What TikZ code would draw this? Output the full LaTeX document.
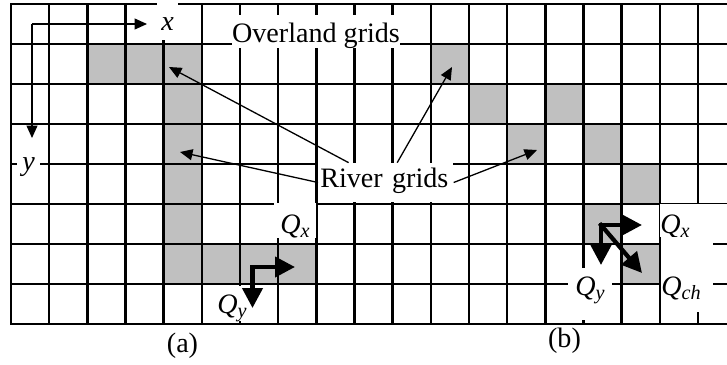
\documentclass[tikz,border=0pt]{standalone}
\usepackage{fontspec}
\setmainfont{Liberation Serif}
\usetikzlibrary{arrows.meta}
\definecolor{rivergray}{RGB}{192,192,192}
\newcommand{\qsub}[1]{\textit{Q}\raisebox{-2.5pt}{\fontsize{11.5}{13}\selectfont\textit{#1}}}

\begin{document}
\begin{tikzpicture}[x=0.02cm,y=-0.02cm,font=\fontsize{16}{19}\selectfont]
  \tikzset{gridline/.style={line width=0.05cm,line cap=rect},
    rivercell/.style={fill=rivergray},
    tag/.style={fill=white,inner sep=0pt},
    pointer/.style={line width=0.026cm,-{Triangle[length=0.25cm,width=0.22cm]}},
    flux/.style={line width=0.085cm,line cap=rect,-{Triangle[length=0.4cm,width=0.4cm]}}}
  \useasboundingbox (0,0) rectangle (727,365);
  % river cells, (a) then (b)
  \foreach \c/\r in {2/1,3/1,4/1,4/2,4/3,4/4,4/5,4/6,5/6,6/6,7/6,
                     11/1,12/2,14/2,13/3,15/3,16/4,15/5,16/6}
    \fill[rivercell] ({11+38.17*\c},{4+40*\r}) rectangle ++(38.17,40);
  % overland grid
  \foreach \k in {0,...,18}
    \draw[gridline] ({11+38.17*\k},4) -- ++(0,320);
  \foreach \j in {0,...,8}
    \draw[gridline] (11,{4+40*\j}) -- (727,{4+40*\j});
  % axes
  \coordinate (o) at (32,24);
  \coordinate (xend) at (147,24);
  \coordinate (yend) at (32,138);
  \draw[pointer] (o) -- (xend);
  \draw[pointer] (o) -- (yend);
  % labels
  \node[tag,anchor=base,minimum width=0.42cm,text height=0.56cm,text depth=0.18cm] (xlab) at (167.5,31) {\textit{x}};
  \node[tag,anchor=base,minimum width=0.46cm,text height=0.4cm,text depth=0.2cm] (ylab) at (28.5,170) {\textit{y}};
  \node[tag,anchor=base,minimum width=3.36cm,text height=0.54cm,text depth=0.12cm] (overland) at (316,42) {Overland grids};
  \node[tag,anchor=base west,text width=2.62cm,inner xsep=0.04cm,align=left,text height=0.48cm,text depth=0.3cm] (river) at (318,187) {River grids};
  \node[tag,anchor=base,minimum width=0.86cm,text height=0.6cm,text depth=0.1cm] (qxa) at (295,233) {\qsub{x}};
  \node[tag,anchor=base,minimum width=0.7cm,text height=0.54cm,text depth=0.16cm] (qya) at (232,313) {\qsub{y}};
  \node[tag,anchor=base west,text width=1.36cm,align=left,text height=0.58cm,text depth=0.08cm] (qxb) at (660,233) {\qsub{x}};
  \node[tag,anchor=base west,text width=1.04cm,align=left,text height=1.16cm,text depth=0.34cm] (qchb) at (661,295) {\qsub{ch}};
  \node[tag,anchor=base,minimum width=0.88cm,text height=0.54cm,text depth=0.5cm] (qyb) at (590,295) {\qsub{y}};
  \node[anchor=base] (capa) at (182.5,352) {(a)};
  \node[anchor=base] (capb) at (564.5,347) {(b)};
  % river grid pointers
  \coordinate (ra1) at (169,67);
  \coordinate (ra2) at (180,152);
  \coordinate (rb1) at (452,67);
  \coordinate (rb2) at (537,150);
  \draw[pointer] (river) -- (ra1);
  \draw[pointer] (river.west) -- (ra2);
  \draw[pointer] (river) -- (rb1);
  \draw[pointer] (river.east) -- (rb2);
  % flux arrows
  \coordinate (fa) at (252.5,267);
  \coordinate (fa-e) at (295,267);
  \coordinate (fa-s) at (252.5,308);
  \draw[flux] (fa) -- (fa-e);
  \draw[flux] (fa) -- (fa-s);
  \coordinate (fb) at (601,225);
  \coordinate (fb-e) at (642,225);
  \coordinate (fb-s) at (601,265);
  \coordinate (fb-se) at (642,273);
  \draw[flux] (fb) -- (fb-e);
  \draw[flux] (fb) -- (fb-s);
  \draw[flux] (fb) -- (fb-se);
\end{tikzpicture}
\end{document}
